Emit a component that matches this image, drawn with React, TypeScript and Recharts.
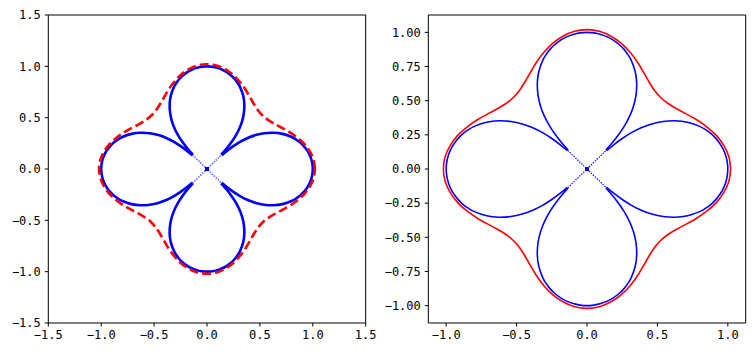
import { ReferenceArea, Scatter, ScatterChart, XAxis, YAxis } from "recharts";

type Pt = [number, number];

// blue petals (lemniscate-like)
const bluePetalRight: Pt[] = [
  [0.139, -0.134], [0.194, -0.181], [0.253, -0.225], [0.316, -0.266], [0.385, -0.302], [0.46, -0.33],
  [0.541, -0.348], [0.626, -0.353], [0.714, -0.342], [0.8, -0.312], [0.841, -0.288], [0.879, -0.26],
  [0.913, -0.226], [0.943, -0.187], [0.967, -0.145], [0.985, -0.098], [0.996, -0.05], [1.0, 0],
  [0.996, 0.05], [0.985, 0.098], [0.967, 0.145], [0.943, 0.187], [0.913, 0.226], [0.879, 0.26],
  [0.841, 0.288], [0.8, 0.312], [0.714, 0.342], [0.626, 0.353], [0.541, 0.348], [0.46, 0.33],
  [0.385, 0.302], [0.316, 0.266], [0.253, 0.225], [0.194, 0.181], [0.139, 0.134],
];
const bluePetalTop: Pt[] = [
  [0.134, 0.139], [0.181, 0.194], [0.225, 0.253], [0.266, 0.316], [0.302, 0.385], [0.33, 0.46],
  [0.348, 0.541], [0.353, 0.626], [0.342, 0.714], [0.312, 0.8], [0.288, 0.841], [0.26, 0.879],
  [0.226, 0.913], [0.187, 0.943], [0.145, 0.967], [0.098, 0.985], [0.05, 0.996], [0, 1.0],
  [-0.05, 0.996], [-0.098, 0.985], [-0.145, 0.967], [-0.187, 0.943], [-0.226, 0.913], [-0.26, 0.879],
  [-0.288, 0.841], [-0.312, 0.8], [-0.342, 0.714], [-0.353, 0.626], [-0.348, 0.541], [-0.33, 0.46],
  [-0.302, 0.385], [-0.266, 0.316], [-0.225, 0.253], [-0.181, 0.194], [-0.134, 0.139],
];
const bluePetalLeft: Pt[] = [
  [-0.139, 0.134], [-0.194, 0.181], [-0.253, 0.225], [-0.316, 0.266], [-0.385, 0.302], [-0.46, 0.33],
  [-0.541, 0.348], [-0.626, 0.353], [-0.714, 0.342], [-0.8, 0.312], [-0.841, 0.288], [-0.879, 0.26],
  [-0.913, 0.226], [-0.943, 0.187], [-0.967, 0.145], [-0.985, 0.098], [-0.996, 0.05], [-1.0, 0],
  [-0.996, -0.05], [-0.985, -0.098], [-0.967, -0.145], [-0.943, -0.187], [-0.913, -0.226], [-0.879, -0.26],
  [-0.841, -0.288], [-0.8, -0.312], [-0.714, -0.342], [-0.626, -0.353], [-0.541, -0.348], [-0.46, -0.33],
  [-0.385, -0.302], [-0.316, -0.266], [-0.253, -0.225], [-0.194, -0.181], [-0.139, -0.134],
];
const bluePetalBottom: Pt[] = [
  [-0.134, -0.139], [-0.181, -0.194], [-0.225, -0.253], [-0.266, -0.316], [-0.302, -0.385], [-0.33, -0.46],
  [-0.348, -0.541], [-0.353, -0.626], [-0.342, -0.714], [-0.312, -0.8], [-0.288, -0.841], [-0.26, -0.879],
  [-0.226, -0.913], [-0.187, -0.943], [-0.145, -0.967], [-0.098, -0.985], [-0.05, -0.996], [0, -1.0],
  [0.05, -0.996], [0.098, -0.985], [0.145, -0.967], [0.187, -0.943], [0.226, -0.913], [0.26, -0.879],
  [0.288, -0.841], [0.312, -0.8], [0.342, -0.714], [0.353, -0.626], [0.348, -0.541], [0.33, -0.46],
  [0.302, -0.385], [0.266, -0.316], [0.225, -0.253], [0.181, -0.194], [0.134, -0.139],
];
// sparse points near the crossing (drawn dotted)
const blueCrossA: Pt[] = [[-0.137, -0.137], [0, 0], [0.137, 0.137]];
const blueCrossB: Pt[] = [[-0.137, 0.137], [0, 0], [0.137, -0.137]];
const blueOrigin: Pt[] = [[0, 0]];

// red outer curve, counter-clockwise from (1.02, 0)
const redOutline: Pt[] = [
  [1.02, 0], [1.008, 0.088], [0.972, 0.171], [0.918, 0.246], [0.85, 0.309], [0.776, 0.362],
  [0.701, 0.405], [0.633, 0.443], [0.573, 0.481], [0.523, 0.523], [0.481, 0.573], [0.443, 0.633],
  [0.405, 0.701], [0.362, 0.776], [0.309, 0.85], [0.246, 0.918], [0.171, 0.972], [0.088, 1.008],
  [0, 1.02],
  [-0.088, 1.008], [-0.171, 0.972], [-0.246, 0.918], [-0.309, 0.85], [-0.362, 0.776], [-0.405, 0.701],
  [-0.443, 0.633], [-0.481, 0.573], [-0.523, 0.523], [-0.573, 0.481], [-0.633, 0.443], [-0.701, 0.405],
  [-0.776, 0.362], [-0.85, 0.309], [-0.918, 0.246], [-0.972, 0.171], [-1.008, 0.088], [-1.02, 0],
  [-1.008, -0.088], [-0.972, -0.171], [-0.918, -0.246], [-0.85, -0.309], [-0.776, -0.362], [-0.701, -0.405],
  [-0.633, -0.443], [-0.573, -0.481], [-0.523, -0.523], [-0.481, -0.573], [-0.443, -0.633], [-0.405, -0.701],
  [-0.362, -0.776], [-0.309, -0.85], [-0.246, -0.918], [-0.171, -0.972], [-0.088, -1.008], [0, -1.02],
  [0.088, -1.008], [0.171, -0.972], [0.246, -0.918], [0.309, -0.85], [0.362, -0.776], [0.405, -0.701],
  [0.443, -0.633], [0.481, -0.573], [0.523, -0.523], [0.573, -0.481], [0.633, -0.443], [0.701, -0.405],
  [0.776, -0.362], [0.85, -0.309], [0.918, -0.246], [0.972, -0.171], [1.008, -0.088], [1.02, 0],
];

const leftTicks = [-1.5, -1.0, -0.5, 0, 0.5, 1.0, 1.5];
const rightXTicks = [-1.0, -0.5, 0, 0.5, 1.0];
const rightYTicks = [-1.0, -0.75, -0.5, -0.25, 0, 0.25, 0.5, 0.75, 1.0];

const leftDomain: Pt = [-1.5, 1.5];
const rightDomain: Pt = [-1.127, 1.127];

const BLUE = "#0000ff";
const RED = "#ff0000";
const FONT = "'DejaVu Sans Mono', monospace";

const toPts = (a: Pt[]) => a.map(([x, y]) => ({ x, y }));
const fmt = (digits: number) => (v: number) => v.toFixed(digits).replace("-", "\u2212");
const noDot = () => <g />;
const squareDot = (p: any) => (
  <rect x={p.cx - 2} y={p.cy - 2} width={4} height={4} fill={BLUE} />
);

type PanelProps = {
  width: number;
  marginRight: number;
  domainX: Pt;
  domainY: Pt;
  xTicks: number[];
  yTicks: number[];
  xDigits: number;
  yDigits: number;
  lw: number;
  redDash?: string;
  crossOpacity: number;
};

function Panel(p: PanelProps) {
  const tick = { fontSize: 12, fill: "#000", fontFamily: FONT };
  const petals = [bluePetalRight, bluePetalTop, bluePetalLeft, bluePetalBottom];
  return (
    <ScatterChart
      width={p.width}
      height={356}
      margin={{ top: 15, right: p.marginRight, bottom: 0, left: 0 }}
      style={{ fontFamily: FONT }}
    >
      <XAxis
        type="number"
        dataKey="x"
        domain={p.domainX}
        ticks={p.xTicks}
        allowDataOverflow
        tickFormatter={fmt(p.xDigits)}
        tick={tick}
        tickSize={3.5}
        tickMargin={4}
        height={33}
        stroke="#000"
        axisLine={false}
      />
      <YAxis
        type="number"
        dataKey="y"
        domain={p.domainY}
        ticks={p.yTicks}
        allowDataOverflow
        tickFormatter={fmt(p.yDigits)}
        tick={tick}
        tickSize={3.5}
        tickMargin={4}
        width={48.3}
        stroke="#000"
        axisLine={false}
      />
      <ReferenceArea
        x1={p.domainX[0]}
        x2={p.domainX[1]}
        y1={p.domainY[0]}
        y2={p.domainY[1]}
        fill="none"
        stroke="#000"
        strokeWidth={1}
        fillOpacity={0}
      />
      {petals.map((pet, i) => (
        <Scatter
          key={`petal-${i}`}
          data={toPts(pet)}
          shape={noDot}
          line={{ stroke: BLUE, strokeWidth: p.lw }}
          lineType="joint"
          lineJointType="natural"
          isAnimationActive={false}
        />
      ))}
      {[blueCrossA, blueCrossB].map((c, i) => (
        <Scatter
          key={`cross-${i}`}
          data={toPts(c)}
          shape={noDot}
          line={{
            stroke: BLUE,
            strokeWidth: p.lw * 0.7,
            strokeDasharray: "1.5 1.2",
            strokeOpacity: p.crossOpacity,
          }}
          lineType="joint"
          isAnimationActive={false}
        />
      ))}
      <Scatter data={toPts(blueOrigin)} shape={squareDot} isAnimationActive={false} />
      <Scatter
        data={toPts(redOutline)}
        shape={noDot}
        line={{ stroke: RED, strokeWidth: p.lw, strokeDasharray: p.redDash }}
        lineType="joint"
        lineJointType="natural"
        isAnimationActive={false}
      />
    </ScatterChart>
  );
}

export default function App() {
  return (
    <div style={{ position: "absolute", left: 0, top: 0, width: 755, height: 356, background: "#fff" }}>
      <div style={{ position: "absolute", left: 0, top: 0 }}>
        <Panel
          width={380}
          marginRight={14.3}
          domainX={leftDomain}
          domainY={leftDomain}
          xTicks={leftTicks}
          yTicks={leftTicks}
          xDigits={1}
          yDigits={1}
          lw={2.6}
          redDash="9 4"
          crossOpacity={0.55}
        />
      </div>
      <div style={{ position: "absolute", left: 380, top: 0 }}>
        <Panel
          width={375}
          marginRight={9.3}
          domainX={rightDomain}
          domainY={rightDomain}
          xTicks={rightXTicks}
          yTicks={rightYTicks}
          xDigits={1}
          yDigits={2}
          lw={1.6}
          crossOpacity={1}
        />
      </div>
    </div>
  );
}
